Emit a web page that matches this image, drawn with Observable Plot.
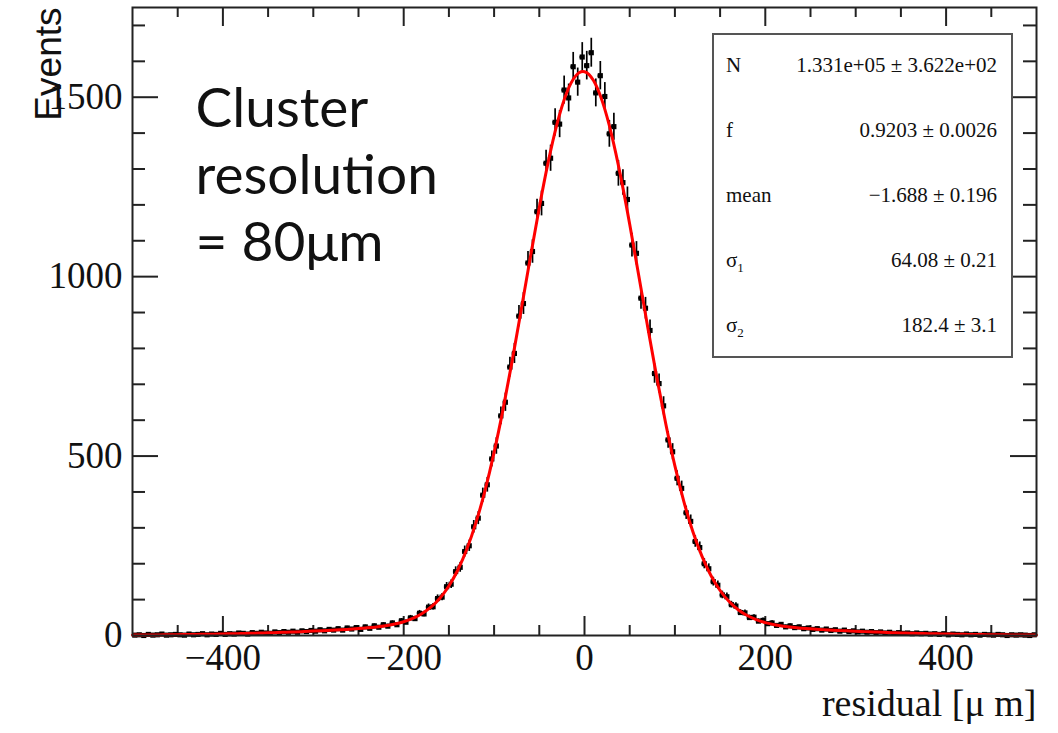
<!DOCTYPE html>
<html><head><meta charset="utf-8">
<script src="https://cdn.jsdelivr.net/npm/d3@7"></script>
<script src="https://cdn.jsdelivr.net/npm/@observablehq/plot@0.6"></script>
<style>
body{margin:0;background:#fff;}
#wrap{position:relative;width:1058px;height:733px;overflow:hidden;background:#fff;}
#stats{position:absolute;left:712px;top:33px;width:301px;height:325px;box-sizing:border-box;border:2px solid #555;background:#fff;font-family:"Liberation Serif","Times New Roman",serif;font-size:21px;color:#111;}
.row{position:absolute;left:12px;right:14px;height:21px;line-height:21px;white-space:nowrap;}
.row .lab{position:absolute;left:0;top:0;}
.row .val{position:absolute;right:0;top:0;}
.row sub{font-size:13px;vertical-align:-5px;line-height:0;}
</style></head><body><div id="wrap"></div>
<script>
// histogram: bins of width 5 from -500 to 500 (counts)
const binLo = -500, binWidth = 5;
const counts = [
 1,2,0,3,1,2,4,1,2,3,
 2,1,4,2,3,5,2,4,3,6,
 3,5,4,7,6,4,8,6,9,7,
 6,10,8,11,9,12,9,13,11,14,
 12,16,13,17,15,19,15,21,18,22,
 17,24,20,27,23,30,26,35,30,41,
 37,49,47,62,60,79,80,103,107,136,
 143,178,190,234,250,303,327,391,420,492,
 528,612,650,748,786,890,925,1038,1070,1181,
 1204,1316,1330,1430,1425,1520,1498,1585,1542,1612,
 1588,1624,1512,1560,1502,1398,1418,1288,1262,1215,
 1088,1065,940,912,850,730,702,640,545,512,
 438,410,342,318,262,245,200,186,150,140,
 113,108,86,82,64,63,50,51,40,42,
 33,35,28,31,24,27,22,24,19,21,
 17,19,15,18,14,16,12,15,11,13,
 10,12,9,11,8,10,7,9,6,8,
 6,7,5,7,5,6,4,5,3,5,
 2,4,3,2,4,2,3,1,3,2,
 1,3,2,0,2,1,2,1,0,2
];
const curveLo = -500, curveStep = 10;
const curveVals = [
 1.1,1.3,1.5,1.7,2.0,2.3,2.6,3.0,3.4,3.8,
 4.3,4.8,5.4,6.1,6.8,7.5,8.3,9.2,10.1,11.1,
 12.2,13.3,14.6,15.9,17.5,19.2,21.3,23.9,27.3,32.0,
 38.4,47.6,60.6,78.8,104.0,138.1,183.3,241.7,315.1,404.5,
 510.4,631.5,765.3,907.6,1052.4,1192.9,1321.1,1429.3,1510.5,1558.8,
 1571.1,1546.3,1486.3,1395.3,1279.3,1146.1,1003.3,858.6,718.6,588.8,
 472.6,372.3,288.4,220.3,166.6,125.4,94.5,71.9,55.6,44.1,
 36.0,30.2,26.0,22.9,20.5,18.6,17.0,15.4,14.1,12.9,
 11.8,10.8,9.8,8.9,8.0,7.2,6.5,5.8,5.2,4.6,
 4.1,3.6,3.2,2.8,2.5,2.2,1.9,1.6,1.4,1.2,
 1.1
];
const xMajor = [-400,-200,0,200,400];
const xMinor = [-450,-350,-300,-250,-150,-100,-50,50,100,150,250,300,350,450];
const yMajor = [0,500,1000,1500];
const yMinor = [100,200,300,400,600,700,800,900,1100,1200,1300,1400,1600,1700];
const xTitle = "residual [μ m]";
const yTitle = "Events";
const annotation = "Cluster\nresolution\n= 80μm";
const statLabels = ["N","f","mean","σ<sub>1</sub>","σ<sub>2</sub>"];
const statValues = ["1.331e+05 ± 3.622e+02","0.9203 ± 0.0026","−1.688 ± 0.196","64.08 ± 0.21","182.4 ± 3.1"];

const points = counts.map((c,i)=>({x: binLo + binWidth*(i+0.5), y: c}));
const curve = curveVals.map((v,i)=>({x: curveLo + curveStep*i, y: v}));

const W = 1058, H = 733, mL = 132, mR = 22, mT = 7, mB = 98;
const iW = W - mL - mR, iH = H - mT - mB;
const serif = "Liberation Serif, Times New Roman, serif";
const fmt = d => d < 0 ? "\u2212" + Math.abs(d) : String(d);
const tickStroke = "#222";

const chart = Plot.plot({
  width: W, height: H,
  marginLeft: mL, marginRight: mR, marginTop: mT, marginBottom: mB,
  x: {domain: [-500, 500], axis: null},
  y: {domain: [0, 1750], axis: null},
  style: {background: "white", overflow: "visible"},
  marks: [
    Plot.ruleX(xMajor, {x: d=>d, insetTop: iH-19, stroke: tickStroke, strokeWidth: 2}),
    Plot.ruleX(xMinor, {x: d=>d, insetTop: iH-10, stroke: tickStroke, strokeWidth: 2}),
    Plot.ruleX(xMajor, {x: d=>d, insetBottom: iH-19, stroke: tickStroke, strokeWidth: 2}),
    Plot.ruleX(xMinor, {x: d=>d, insetBottom: iH-10, stroke: tickStroke, strokeWidth: 2}),
    Plot.ruleY(yMajor, {y: d=>d, insetRight: iW-26, stroke: tickStroke, strokeWidth: 2}),
    Plot.ruleY(yMinor, {y: d=>d, insetRight: iW-13, stroke: tickStroke, strokeWidth: 2}),
    Plot.ruleY(yMajor, {y: d=>d, insetLeft: iW-26, stroke: tickStroke, strokeWidth: 2}),
    Plot.ruleY(yMinor, {y: d=>d, insetLeft: iW-13, stroke: tickStroke, strokeWidth: 2}),
    // data with error bars
    Plot.ruleX(points, {x: "x", y1: d=>d.y-Math.sqrt(d.y), y2: d=>d.y+Math.sqrt(d.y), stroke: "#000", strokeWidth: 1.7}),
    Plot.ruleY(points, {y: "y", x1: d=>d.x-binWidth/2, x2: d=>d.x+binWidth/2, stroke: "#000", strokeWidth: 2.6}),
    Plot.dot(points, {x: "x", y: "y", symbol: "square", r: 2.9, fill: "#000"}),
    // fit
    Plot.line(curve, {x: "x", y: "y", stroke: "#ff0000", strokeWidth: 3, curve: "natural"}),
    Plot.frame({stroke: "#222", strokeWidth: 2}),
    Plot.text(xMajor, {x: d=>d, text: fmt, frameAnchor: "bottom", dy: 34, fontSize: 37, fontFamily: serif, fill: "#111"}),
    Plot.text(yMajor, {y: d=>d, text: fmt, frameAnchor: "left", textAnchor: "end", dx: -10, fontSize: 37, fontFamily: serif, fill: "#111"}),
    Plot.text([xTitle], {text: d=>d, frameAnchor: "bottom-right", textAnchor: "end", dx: 0, dy: 80, fontSize: 38, fontFamily: serif, fill: "#111"}),
    Plot.text([yTitle], {text: d=>d, frameAnchor: "top-left", textAnchor: "end", rotate: -90, dx: -98, dy: 0, fontSize: 37, fontFamily: "Liberation Sans, Arial, sans-serif", fill: "#111"}),
    Plot.text([annotation], {text: d=>d, frameAnchor: "top-left", textAnchor: "start", lineAnchor: "top", lineHeight: 1.22, dx: 63, dy: 72, fontSize: 55, fontFamily: "Lato, Open Sans, sans-serif", fill: "#111"})
  ]
});

const wrap = document.getElementById("wrap");
wrap.appendChild(chart);
const stats = document.createElement("div");
stats.id = "stats";
const rowTops = [20, 85, 150, 215, 280];
statLabels.forEach((lab, i) => {
  const r = document.createElement("div");
  r.className = "row";
  r.style.top = rowTops[i] + "px";
  r.innerHTML = `<span class="lab">${lab}</span><span class="val">${statValues[i]}</span>`;
  stats.appendChild(r);
});
wrap.appendChild(stats);
</script></body></html>
